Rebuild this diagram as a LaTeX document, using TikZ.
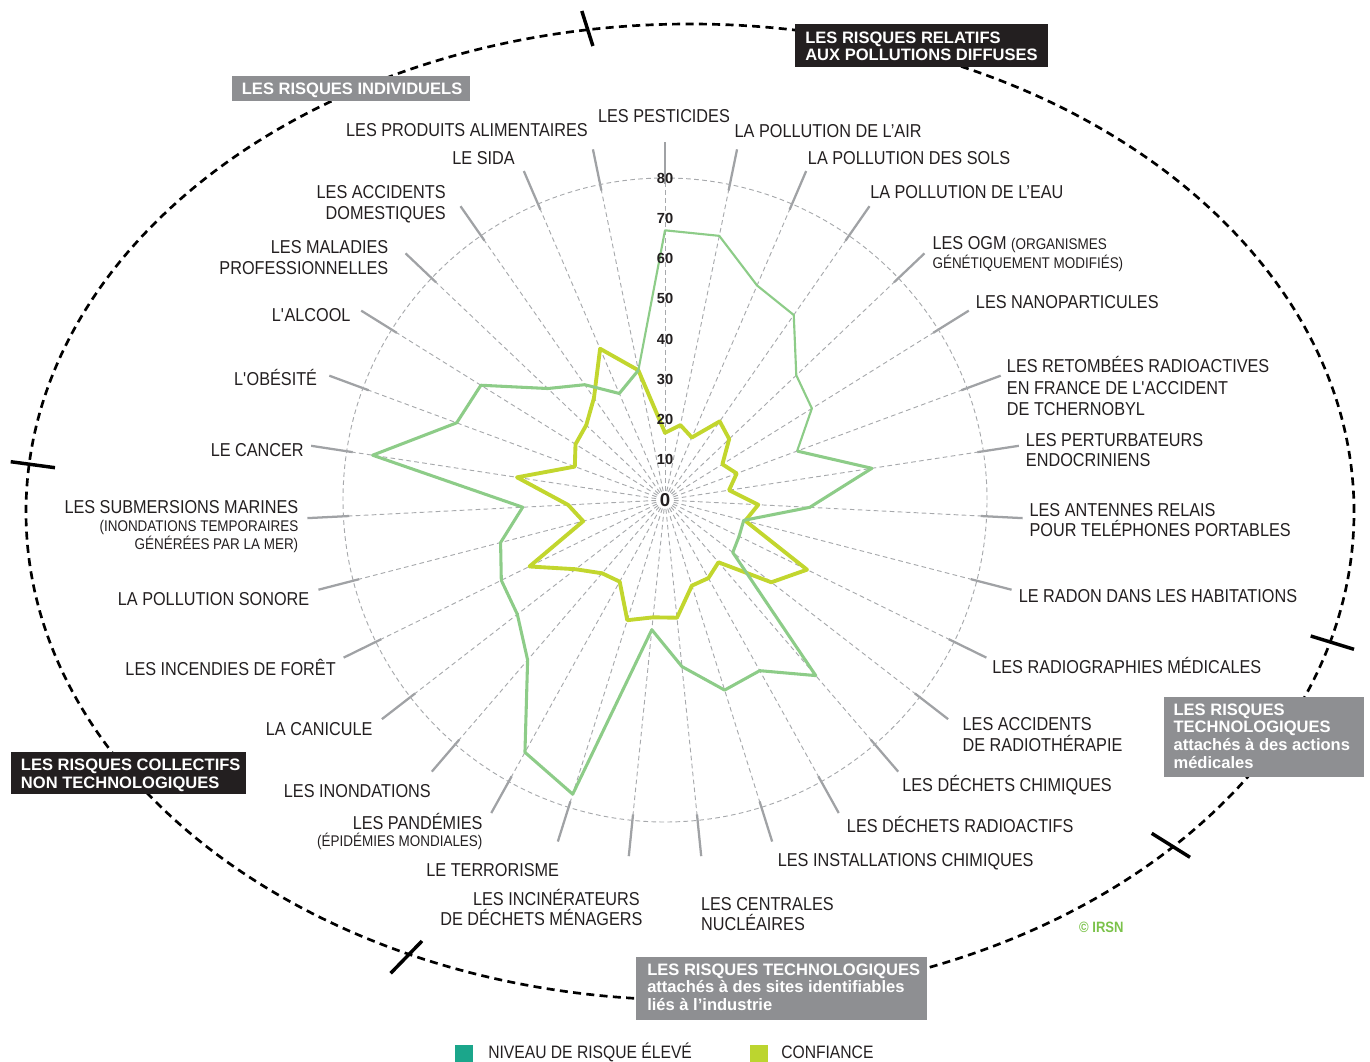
\documentclass[tikz,border=0pt]{standalone}
\usepackage{fontspec}
\setmainfont{Liberation Sans}[FakeStretch=0.87]
\newfontfamily\numfam{Liberation Sans}
\newcommand\smtxt{\fontsize{11.6}{13}\selectfont}
\definecolor{txt}{HTML}{231F20}
\definecolor{gridc}{HTML}{A7A9AC}
\definecolor{leadc}{HTML}{A0A2A5}
\definecolor{riskc}{HTML}{8DCC88}
\definecolor{confc}{HTML}{C2D62E}
\definecolor{tealc}{HTML}{1BA68B}
\definecolor{limec}{HTML}{BCD52F}
\definecolor{boxk}{HTML}{231F20}
\definecolor{boxg}{HTML}{8E8F92}
\definecolor{irsnc}{HTML}{7BC24A}
\begin{document}
\begin{tikzpicture}[x=0.75pt,y=-0.75pt,
  lab/.style={inner sep=0pt,text=txt,font=\fontsize{14}{16}\selectfont},
  labw/.style={lab,anchor=base west},
  labe/.style={lab,anchor=base east},
  boxt/.style={inner sep=0pt,anchor=base west,text=white,font=\numfam\fontsize{12.4}{14}\selectfont\bfseries},
  num/.style={inner sep=0pt,text=txt,font=\numfam\fontsize{11}{12}\selectfont\bfseries},
  gridline/.style={gridc,line width=0.7pt,dash pattern=on 3.5pt off 2.5pt},
  leader/.style={leadc,line width=1.7pt},
  riskthin/.style={riskc,line width=1.6pt,line join=round},
  riskthick/.style={riskc,line width=2.3pt,line join=round},
  conf/.style={confc,line width=2.9pt,line join=round},
  ell/.style={black,line width=2pt,dash pattern=on 6pt off 4pt},
  etick/.style={black,line width=2.6pt}
]
\useasboundingbox (0,0) rectangle (1370,1062);

% outer dashed ellipse and its ticks
\draw[ell] (690,512) ellipse [x radius=498pt, y radius=366pt];
\coordinate (t1a) at (581.8,11);   \coordinate (t1b) at (592.9,46);
\coordinate (t2a) at (1310.7,636); \coordinate (t2b) at (1354,649.3);
\coordinate (t3a) at (1151.7,833.3); \coordinate (t3b) at (1190,857.3);
\coordinate (t4a) at (390.6,973.3); \coordinate (t4b) at (422,941);
\coordinate (t5a) at (10.7,461.7); \coordinate (t5b) at (55,467.7);
\draw[etick] (t1a) -- (t1b);
\draw[etick] (t2a) -- (t2b);
\draw[etick] (t3a) -- (t3b);
\draw[etick] (t4a) -- (t4b);
\draw[etick] (t5a) -- (t5b);

% radar grid
\begin{scope}[shift={(665,500)}]
  \foreach \k in {0,...,30} {
    \draw[gridline] (\k*360/31-90:9) -- (\k*360/31-90:322);
    \draw[leader] (\k*360/31-90:316) -- (\k*360/31-90:358);
  }
  \draw[gridline] (0,0) circle [radius=241.5pt];
  % confiance
  \draw[conf] (-90:16.7*4.025)
    \foreach \v [count=\i from 1] in {19.0,16.9,23.8,22.0,16.8,19.0,16.1,23.2,20.6,39.3,33.4,20.4,22.2,22.3,29.4,29.3,31.3,23.2,24.0,28.1,37.5,21.0,24.1,37.2,23.9,26.2,27.0,30.9,40.9,32.9}
    { -- (\i*360/31-90:\v*4.025) } -- cycle;
  % niveau de risque
  \draw[riskthick] (6*360/31-90:35*4.025)
    \foreach \v [count=\i from 7] in {52,36,20.2,20.5,21.3,57.5,48.5,49.5,41.6,32.4,76.6,71.7,52.4,46.4,45.3,42.2,35.4,73.5,55.2,53.9,40.2,34.9,28.8,32.9}
    { -- (\i*360/31-90:\v*4.025) };
  \draw[riskthin] (30*360/31-90:32.9*4.025)
    \foreach \v [count=\i from 0] in {67,67,58,56,45,43,35}
    { -- (\i*360/31-90:\v*4.025) };
  % scale numbers
  \foreach \v in {10,20,...,80} {
    \node[num] (n\v) at (-90:\v*4.025) {\v};
  }
  \node[num,font=\numfam\fontsize{14}{15}\selectfont\bfseries] (n0) at (0,0) {0};
\end{scope}

% axis labels
\node[lab,anchor=base] (pest) at (664,122.7) {LES PESTICIDES};
\node[labw] (air) at (734.4,137.3) {LA POLLUTION DE L’AIR};
\node[labw] (sols) at (807.7,165) {LA POLLUTION DES SOLS};
\node[labw] (eau) at (870,198.5) {LA POLLUTION DE L’EAU};
\node[labw] (ogma) at (932.3,249.3) {LES OGM {\smtxt (ORGANISMES}};
\node[labw,font=\smtxt] (ogmb) at (932.3,268.3) {GÉNÉTIQUEMENT MODIFIÉS)};
\node[labw] (nano) at (975.7,308.3) {LES NANOPARTICULES};
\node[labw] (reta) at (1006.7,372.3) {LES RETOMBÉES RADIOACTIVES};
\node[labw] (retb) at (1006.7,394) {EN FRANCE DE L\textquotesingle ACCIDENT};
\node[labw] (retc) at (1006.7,415) {DE TCHERNOBYL};
\node[labw] (pera) at (1025.7,446.7) {LES PERTURBATEURS};
\node[labw] (perb) at (1025.7,466.7) {ENDOCRINIENS};
\node[labw] (anta) at (1029.3,516.7) {LES ANTENNES RELAIS};
\node[labw] (antb) at (1029.3,536.7) {POUR TELÉPHONES PORTABLES};
\node[labw] (radon) at (1018.6,602.7) {LE RADON DANS LES HABITATIONS};
\node[labw] (radio) at (992.1,673.3) {LES RADIOGRAPHIES MÉDICALES};
\node[labw] (rthA) at (962.4,730.7) {LES ACCIDENTS};
\node[labw] (rthB) at (962.4,751) {DE RADIOTHÉRAPIE};
\node[labw] (dchim) at (902.1,791) {LES DÉCHETS CHIMIQUES};
\node[labw] (drad) at (846.7,832.3) {LES DÉCHETS RADIOACTIFS};
\node[labw] (inst) at (777.6,866) {LES INSTALLATIONS CHIMIQUES};
\node[labw] (centa) at (700.8,910) {LES CENTRALES};
\node[labw] (centb) at (700.8,930.7) {NUCLÉAIRES};

\node[labe] (prod) at (588,137) {LES PRODUITS ALIMENTAIRES};
\node[labe] (sida) at (515,165) {LE SIDA};
\node[labe] (acca) at (446,198.3) {LES ACCIDENTS};
\node[labe] (accb) at (446,219.3) {DOMESTIQUES};
\node[labe] (mala) at (388.5,253.3) {LES MALADIES};
\node[labe] (malb) at (388.5,275) {PROFESSIONNELLES};
\node[labe] (alc) at (350.7,321.7) {L\textquotesingle ALCOOL};
\node[labe] (obe) at (317.3,385) {L\textquotesingle OBÉSITÉ};
\node[labe] (canc) at (304,456.5) {LE CANCER};
\node[labe] (suba) at (298.5,513.3) {LES SUBMERSIONS MARINES};
\node[labe,font=\smtxt] (subb) at (298.5,531) {(INONDATIONS TEMPORAIRES};
\node[labe,font=\smtxt] (subc) at (298.5,549.3) {GÉNÉRÉES PAR LA MER)};
\node[labe] (son) at (309.5,605) {LA POLLUTION SONORE};
\node[labe] (inc) at (336,675) {LES INCENDIES DE FORÊT};
\node[labe] (can) at (372.7,735.7) {LA CANICULE};
\node[labe] (inon) at (431,797.7) {LES INONDATIONS};
\node[labe] (pana) at (482.7,829.3) {LES PANDÉMIES};
\node[labe,font=\smtxt] (panb) at (482.7,846.7) {(ÉPIDÉMIES MONDIALES)};
\node[labe] (terr) at (559.3,876.7) {LE TERRORISME};
\node[labe] (incia) at (640,905) {LES INCINÉRATEURS};
\node[labe] (incib) at (642.7,925.7) {DE DÉCHETS MÉNAGERS};

% category boxes
\fill[boxk] (795,24) rectangle (1048,67);
\node[boxt] (ca1) at (805,43.3) {LES RISQUES RELATIFS};
\node[boxt] (ca2) at (805,61) {AUX POLLUTIONS DIFFUSES};
\fill[boxg] (232.2,76) rectangle (470.3,100.7);
\node[boxt] (cb1) at (241.6,95) {LES RISQUES INDIVIDUELS};
\fill[boxk] (11,752) rectangle (246,794);
\node[boxt] (cc1) at (20.7,770.5) {LES RISQUES COLLECTIFS};
\node[boxt] (cc2) at (20.7,788) {NON TECHNOLOGIQUES};
\fill[boxg] (1164,697.3) rectangle (1364,776.7);
\node[boxt] (cd1) at (1173.3,715) {LES RISQUES};
\node[boxt] (cd2) at (1173.3,732.8) {TECHNOLOGIQUES};
\node[boxt] (cd3) at (1173.3,750.6) {attachés à des actions};
\node[boxt] (cd4) at (1173.3,768.4) {médicales};
\fill[boxg] (636.3,957.3) rectangle (927.2,1020);
\node[boxt] (ce1) at (647,975) {LES RISQUES TECHNOLOGIQUES};
\node[boxt] (ce2) at (647,992.5) {attachés à des sites identifiables};
\node[boxt] (ce3) at (647,1010) {liés à l’industrie};

% copyright
\node[inner sep=0pt,anchor=base west,text=irsnc,font=\fontsize{11.25}{12}\selectfont\bfseries] (irsn) at (1078.9,932.3) {© IRSN};

% legend
\fill[tealc] (455,1045) rectangle (473,1063);
\node[labw,font=\fontsize{13.5}{15}\selectfont] (leg1) at (488,1058.5) {NIVEAU DE RISQUE ÉLEVÉ};
\fill[limec] (749.6,1045) rectangle (767.6,1063);
\node[labw,font=\fontsize{13.5}{15}\selectfont] (leg2) at (781,1058.5) {CONFIANCE};
\end{tikzpicture}
\end{document}
